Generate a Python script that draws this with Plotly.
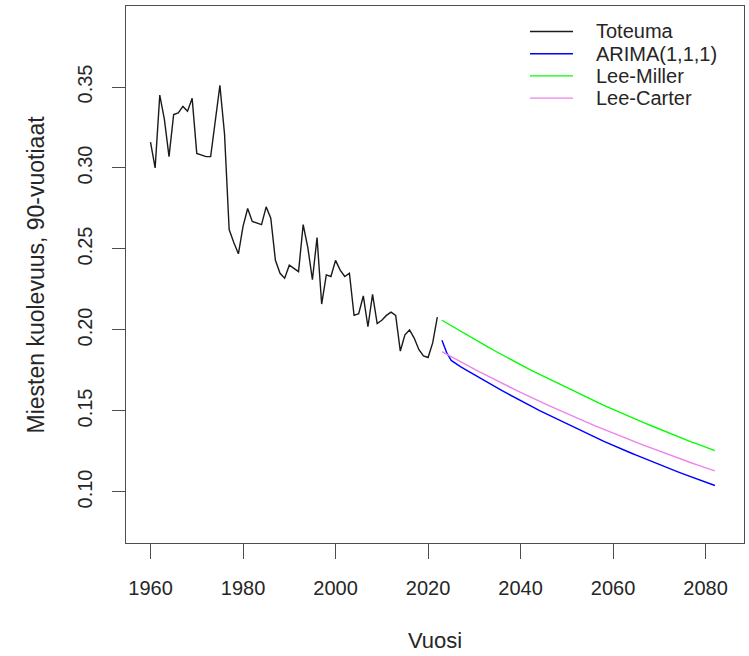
import plotly.graph_objects as go

# Observed mortality of 90-year-old men, 1960-2022
hist_years = list(range(1960, 2023))
toteuma = [
    0.316, 0.300, 0.345, 0.330, 0.307, 0.333, 0.334, 0.338, 0.335, 0.343,
    0.309, 0.308, 0.307, 0.307, 0.330, 0.351, 0.321, 0.262, 0.254, 0.247,
    0.264, 0.275, 0.267, 0.266, 0.265, 0.276, 0.269, 0.243, 0.235, 0.232,
    0.240, 0.238, 0.236, 0.265, 0.251, 0.231, 0.257, 0.216, 0.234, 0.233,
    0.243, 0.237, 0.233, 0.235, 0.209, 0.210, 0.221, 0.202, 0.222, 0.204,
    0.206, 0.209, 0.211, 0.209, 0.187, 0.197, 0.200, 0.195, 0.188, 0.184,
    0.183, 0.192, 0.208,
]

# Forecasts 2023-2082
fc_years = list(range(2023, 2083))
arima = [
    0.1936, 0.1862, 0.1812, 0.1791, 0.1774, 0.1757, 0.1740, 0.1723, 0.1706, 0.1690,
    0.1673, 0.1657, 0.1641, 0.1625, 0.1610, 0.1594, 0.1579, 0.1564, 0.1548, 0.1534,
    0.1519, 0.1504, 0.1490, 0.1475, 0.1461, 0.1447, 0.1433, 0.1419, 0.1405, 0.1392,
    0.1378, 0.1365, 0.1352, 0.1339, 0.1326, 0.1313, 0.1300, 0.1288, 0.1275, 0.1263,
    0.1251, 0.1239, 0.1227, 0.1215, 0.1203, 0.1192, 0.1180, 0.1169, 0.1158, 0.1146,
    0.1135, 0.1124, 0.1113, 0.1103, 0.1092, 0.1082, 0.1071, 0.1061, 0.1050, 0.1040,
]
lee_miller = [
    0.2060, 0.2043, 0.2026, 0.2009, 0.1992, 0.1975, 0.1959, 0.1942, 0.1926, 0.1910,
    0.1894, 0.1878, 0.1862, 0.1847, 0.1831, 0.1816, 0.1801, 0.1786, 0.1771, 0.1756,
    0.1742, 0.1727, 0.1713, 0.1699, 0.1684, 0.1670, 0.1656, 0.1642, 0.1628, 0.1615,
    0.1601, 0.1588, 0.1574, 0.1561, 0.1548, 0.1535, 0.1522, 0.1510, 0.1497, 0.1484,
    0.1472, 0.1460, 0.1447, 0.1435, 0.1423, 0.1412, 0.1400, 0.1388, 0.1376, 0.1365,
    0.1353, 0.1342, 0.1330, 0.1319, 0.1308, 0.1298, 0.1287, 0.1276, 0.1265, 0.1255,
]
lee_carter = [
    0.1866, 0.1850, 0.1835, 0.1819, 0.1804, 0.1788, 0.1773, 0.1758, 0.1743, 0.1729,
    0.1714, 0.1700, 0.1685, 0.1671, 0.1657, 0.1643, 0.1629, 0.1615, 0.1601, 0.1588,
    0.1574, 0.1561, 0.1548, 0.1535, 0.1522, 0.1509, 0.1496, 0.1483, 0.1471, 0.1458,
    0.1446, 0.1434, 0.1422, 0.1410, 0.1398, 0.1386, 0.1374, 0.1363, 0.1351, 0.1340,
    0.1328, 0.1317, 0.1306, 0.1295, 0.1284, 0.1273, 0.1262, 0.1251, 0.1241, 0.1230,
    0.1220, 0.1210, 0.1199, 0.1189, 0.1179, 0.1169, 0.1159, 0.1149, 0.1140, 0.1130,
]

series_names = ["Toteuma", "ARIMA(1,1,1)", "Lee-Miller", "Lee-Carter"]
series_colors = ["#1a1a1a", "#0000ff", "#00ff00", "#ee82ee"]

x_ticks = [1960, 1980, 2000, 2020, 2040, 2060, 2080]
y_ticks = [0.10, 0.15, 0.20, 0.25, 0.30, 0.35]
y_tick_labels = ["0.10", "0.15", "0.20", "0.25", "0.30", "0.35"]

FONT = "Liberation Sans, Arial, Helvetica, sans-serif"
TEXT_COLOR = "#262626"

fig = go.Figure()
data = [
    (hist_years, toteuma),
    (fc_years, arima),
    (fc_years, lee_miller),
    (fc_years, lee_carter),
]
for (xs, ys), name, col in zip(data, series_names, series_colors):
    fig.add_trace(go.Scatter(
        x=xs, y=ys, mode="lines", name=name,
        line=dict(color=col, width=1.4),
        showlegend=False,
    ))

# Legend in the top-right corner: short line sample followed by the label
W, H = 749, 656
ml, mr, mt, mb = 126, 5, 6, 113
pw, ph = W - ml - mr, H - mt - mb
shapes = []
annotations = []
for i, (name, col) in enumerate(zip(series_names, series_colors)):
    ypx = 31.5 + i * 22.2
    yp = (H - mb - ypx) / ph
    shapes.append(dict(
        type="line", xref="paper", yref="paper",
        x0=(530 - ml) / pw, x1=(573 - ml) / pw, y0=yp, y1=yp,
        line=dict(color=col, width=1.4),
    ))
    annotations.append(dict(
        text=name, xref="paper", yref="paper",
        x=(594 - ml) / pw, y=yp, xanchor="left", yanchor="middle",
        showarrow=False, font=dict(family=FONT, size=20, color=TEXT_COLOR),
    ))

# Axis titles
annotations.append(dict(
    text="Vuosi", xref="paper", yref="paper", x=0.5, y=(543 - 640) / ph,
    xanchor="center", yanchor="middle", showarrow=False,
    font=dict(family=FONT, size=22, color=TEXT_COLOR),
))
annotations.append(dict(
    text="Miesten kuolevuus, 90-vuotiaat", xref="paper", yref="paper",
    x=(35 - ml) / pw, y=0.5, xanchor="center", yanchor="middle",
    textangle=-90, showarrow=False,
    font=dict(family=FONT, size=23, color=TEXT_COLOR),
))

axis_common = dict(
    showgrid=False, zeroline=False,
    showline=True, mirror=True, linecolor="#4d4d4d", linewidth=1.3,
    ticks="outside", tickcolor="#4d4d4d", tickwidth=1.3,
    tickfont=dict(family=FONT, size=20, color=TEXT_COLOR),
)

fig.update_layout(
    width=W, height=H,
    margin=dict(l=ml, r=mr, t=mt, b=mb),
    paper_bgcolor="white", plot_bgcolor="white",
    shapes=shapes, annotations=annotations,
    xaxis=dict(
        range=[1954.7, 2088.3], tickvals=x_ticks, ticklen=15,
        ticklabelstandoff=12, **axis_common,
    ),
    yaxis=dict(
        range=[0.0685, 0.400], tickvals=y_ticks, ticktext=y_tick_labels,
        tickangle=-90, ticklen=13, ticklabelstandoff=12, **axis_common,
    ),
)

fig.write_html("out.html")
